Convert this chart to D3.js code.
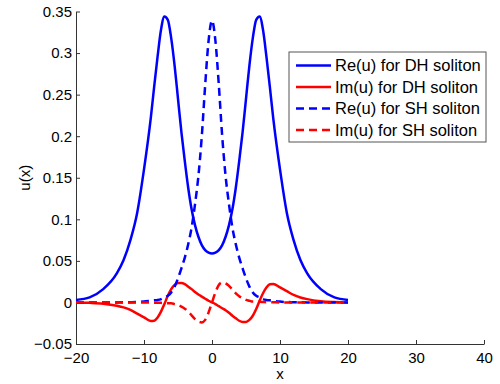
<!DOCTYPE html>
<html>
<head>
<meta charset="utf-8">
<script src="https://cdn.jsdelivr.net/npm/d3@7"></script>
<style>
  body { margin: 0; background: #fff; }
  svg { font-family: "Liberation Sans", Arial, sans-serif; }
</style>
</head>
<body>
<div></div>
<script>
const width = 500;
const height = 384;

// sample points along x (denser near the humps)
const xs = [-20, -18, -16, -14, -13, -12, -11, -10, -9, -8.5, -8, -7.5, -7, -6.5, -6, -5.5, -5, -4.5, -4, -3.5, -3, -2.5, -2, -1.5, -1, -0.5,
  0, 0.5, 1, 1.5, 2, 2.5, 3, 3.5, 4, 4.5, 5, 5.5, 6, 6.5, 7, 7.5, 8, 8.5, 9, 10, 11, 12, 13, 14, 16, 18, 20];

const reDH = [0.003, 0.006, 0.016, 0.035, 0.051, 0.075, 0.108, 0.160, 0.222, 0.260, 0.296, 0.328, 0.344, 0.340, 0.318, 0.285, 0.245, 0.205, 0.170, 0.138, 0.112, 0.093, 0.079, 0.069, 0.063, 0.060,
  0.059, 0.060, 0.063, 0.069, 0.079, 0.093, 0.112, 0.138, 0.170, 0.205, 0.245, 0.285, 0.318, 0.340, 0.344, 0.328, 0.296, 0.260, 0.222, 0.160, 0.108, 0.075, 0.051, 0.035, 0.016, 0.006, 0.003];

const imDH = [0, -0.0005, -0.0015, -0.004, -0.006, -0.009, -0.0135, -0.018, -0.0223, -0.022, -0.018, -0.011, -0.002, 0.008, 0.016, 0.021, 0.0235, 0.0235, 0.022, 0.019, 0.016, 0.0125, 0.0095, 0.007, 0.0045, 0.002,
  0, -0.002, -0.0045, -0.007, -0.0095, -0.0125, -0.016, -0.019, -0.022, -0.0235, -0.0235, -0.021, -0.016, -0.008, 0.002, 0.011, 0.018, 0.022, 0.0223, 0.018, 0.0135, 0.009, 0.006, 0.004, 0.0015, 0.0005, 0];

const reSH = [0, 0, 0, 0, 0.0002, 0.0003, 0.0005, 0.001, 0.002, 0.0025, 0.003, 0.004, 0.006, 0.008, 0.012, 0.019, 0.029, 0.041, 0.054, 0.070, 0.090, 0.118, 0.152, 0.200, 0.262, 0.315,
  0.339, 0.315, 0.262, 0.200, 0.152, 0.118, 0.090, 0.070, 0.054, 0.041, 0.029, 0.019, 0.012, 0.008, 0.006, 0.004, 0.003, 0.0025, 0.002, 0.001, 0.0005, 0.0003, 0.0002, 0, 0, 0, 0];

const imSH = [0, 0, 0, 0, 0, 0, 0, 0, -0.0002, -0.0003, -0.0003, -0.0005, -0.0007, -0.001, -0.001, -0.002, -0.003, -0.005, -0.0075, -0.011, -0.0155, -0.020, -0.023, -0.024, -0.021, -0.012,
  0, 0.012, 0.021, 0.024, 0.023, 0.020, 0.0155, 0.011, 0.0075, 0.005, 0.003, 0.002, 0.001, 0.001, 0.0007, 0.0005, 0.0003, 0.0003, 0.0002, 0, 0, 0, 0, 0, 0, 0, 0];

const xTicks = [-20, -10, 0, 10, 20, 30, 40];
const yTicks = [-0.05, 0, 0.05, 0.1, 0.15, 0.2, 0.25, 0.3, 0.35];

const series = [
  { name: 'Re(u) for DH soliton', values: reDH, color: '#0000ff', dash: null },
  { name: 'Im(u) for DH soliton', values: imDH, color: '#ff0000', dash: null },
  { name: 'Re(u) for SH soliton', values: reSH, color: '#0000ff', dash: '8,5' },
  { name: 'Im(u) for SH soliton', values: imSH, color: '#ff0000', dash: '8,5' }
];

const svg = d3.select('div').append('svg').attr('width', width).attr('height', height);

const x = d3.scaleLinear().domain([-20, 40]).range([76, 484]);
const y = d3.scaleLinear().domain([-0.05, 0.35]).range([344, 11.5]);

const fmt = d => d3.format('')(d).replace('-', '\u2212');

// axes, ticks pointing inward like matlab
const xAxis = svg.append('g').attr('transform', 'translate(0,' + y(-0.05) + ')')
  .call(d3.axisBottom(x).tickValues(xTicks).tickSizeInner(-4).tickSizeOuter(0).tickPadding(6).tickFormat(fmt));
const yAxis = svg.append('g').attr('transform', 'translate(' + x(-20) + ',0)')
  .call(d3.axisLeft(y).tickValues(yTicks).tickSizeInner(-4).tickSizeOuter(0).tickPadding(4).tickFormat(fmt));

[xAxis, yAxis].forEach(a => {
  a.select('.domain').attr('stroke', '#333');
  a.selectAll('.tick line').attr('stroke', '#333');
  a.selectAll('.tick text').attr('font-size', 15).attr('fill', '#000').attr('font-family', null);
});
xAxis.selectAll('.tick text').attr('dy', '0.85em');

svg.append('text').attr('x', x(10)).attr('y', 379).attr('text-anchor', 'middle')
  .attr('font-size', 15).text('x');
svg.append('text').attr('transform', 'translate(30,' + y(0.15) + ') rotate(-90)')
  .attr('text-anchor', 'middle').attr('font-size', 15).text('u(x)');

const line = d3.line()
  .x((d, i) => x(xs[i]))
  .y(d => y(d))
  .curve(d3.curveMonotoneX);

svg.append('g').selectAll('path').data(series).enter().append('path')
  .attr('d', d => line(d.values))
  .attr('fill', 'none')
  .attr('stroke', d => d.color)
  .attr('stroke-width', 2.5)
  .attr('stroke-dasharray', d => d.dash);

// legend
const lg = svg.append('g').attr('transform', 'translate(289,52)');
lg.append('rect').attr('width', 197).attr('height', 90)
  .attr('fill', '#fff').attr('stroke', '#555').attr('stroke-width', 1);
const rows = lg.selectAll('g.row').data(series).enter().append('g')
  .attr('class', 'row')
  .attr('transform', (d, i) => 'translate(0,' + (13.5 + i * 21.5) + ')');
rows.append('line').attr('x1', 7).attr('x2', 42)
  .attr('stroke', d => d.color).attr('stroke-width', 2.5)
  .attr('stroke-dasharray', d => d.dash);
rows.append('text').attr('x', 46).attr('dy', '0.36em')
  .attr('font-size', 16.5).text(d => d.name);
</script>
</body>
</html>
